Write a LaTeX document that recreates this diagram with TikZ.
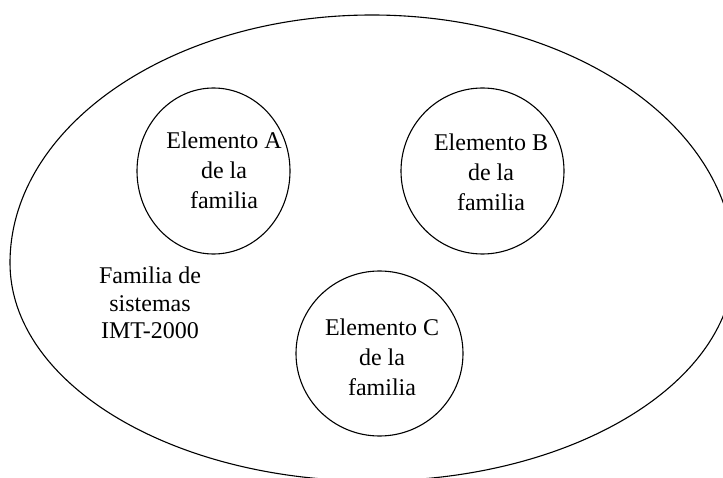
\documentclass[tikz,border=0pt]{standalone}
\usepackage{fontspec}
\setmainfont{Liberation Serif}
\usetikzlibrary{shapes.geometric}
\begin{document}
\begin{tikzpicture}[x=1pt,y=1pt,
  ring/.style={draw,line width=1.1pt,ellipse,inner sep=0pt},
  lbl/.style={align=center,inner sep=0pt,font=\fontsize{24}{30}\selectfont},
  famlbl/.style={align=center,inner sep=0pt,font=\fontsize{24}{27.5}\selectfont}]
\clip (0,0) rectangle (723,477);
\fill[white] (0,0) rectangle (723,477);
% outer family outline
\draw[line width=1.1pt] (734,214)
  arc[start angle=0,end angle=180,x radius=362,y radius=248]
  arc[start angle=180,end angle=360,x radius=362,y radius=218];
% elements
\node[ring,minimum width=153pt,minimum height=166pt] (ea) at (213.5,306) {};
\node[ring,minimum width=163pt,minimum height=166pt] (eb) at (482.5,306) {};
\node[ring,minimum width=167pt,minimum height=165pt] (ec) at (379.5,123.5) {};
\node[lbl] (ta) at (224,307) {Elemento A\\de la\\familia};
\node[lbl] (tb) at (491,305) {Elemento B\\de la\\familia};
\node[lbl] (tc) at (382,120) {Elemento C\\de la\\familia};
\node[famlbl] (fam) at (150,174) {Familia de\\sistemas\\IMT-2000};
\end{tikzpicture}
\end{document}
